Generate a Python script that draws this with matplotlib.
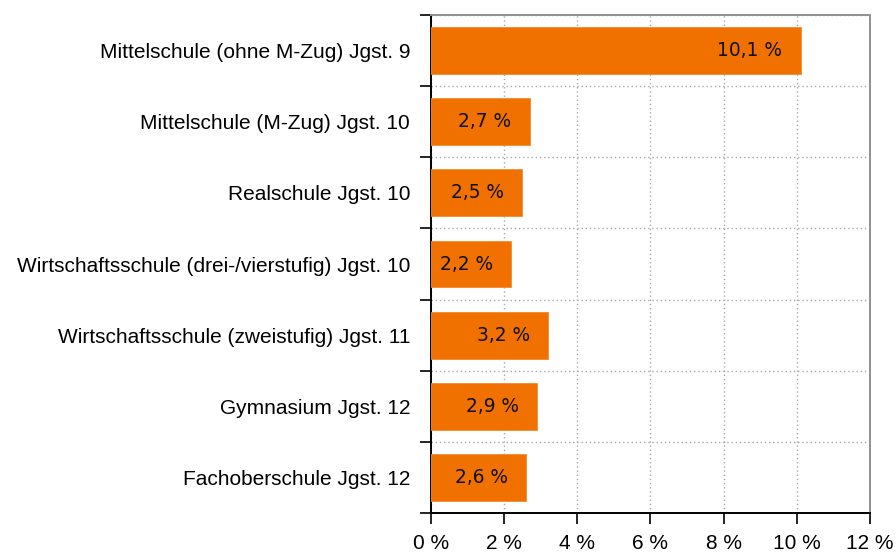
import matplotlib.pyplot as plt
from matplotlib.ticker import FixedLocator

categories = [
    'Mittelschule (ohne M-Zug) Jgst. 9',
    'Mittelschule (M-Zug) Jgst. 10',
    'Realschule Jgst. 10',
    'Wirtschaftsschule (drei-/vierstufig) Jgst. 10',
    'Wirtschaftsschule (zweistufig) Jgst. 11',
    'Gymnasium Jgst. 12',
    'Fachoberschule Jgst. 12',
]
values = [10.1, 2.7, 2.5, 2.2, 3.2, 2.9, 2.6]
xticks = [0, 2, 4, 6, 8, 10, 12]

fig = plt.figure(figsize=(8.96, 5.52), dpi=100)
ax = fig.add_axes([0.481, 0.0707, 0.49, 0.902])

n = len(categories)
ypos = list(range(n))
ax.barh(ypos, values, height=0.66, color='#f07000', edgecolor='#f48a30', linewidth=0.6, zorder=3)
ax.set_ylim(n - 0.5, -0.5)
ax.set_xlim(0, 12)

ax.set_yticks(ypos)
ax.set_yticklabels(categories, fontsize=15, family='Liberation Sans')
ax.tick_params(axis='y', which='major', length=0, pad=15)
ax.yaxis.set_minor_locator(FixedLocator([i - 0.5 for i in range(n + 1)]))
ax.tick_params(axis='y', which='minor', length=8, width=1.2, color='black')

ax.set_xticks(xticks)
ax.set_xticklabels([f'{t} %' for t in xticks], fontsize=15, family='Liberation Sans')
ax.tick_params(axis='x', length=8, width=1.2, color='black', pad=7)

grid_style = dict(linestyle=(0, (1, 2)), color='#a8a8a8', linewidth=1.0, zorder=0)
ax.grid(axis='x', which='major', **grid_style)
ax.grid(axis='y', which='minor', **grid_style)

for s in ['left', 'bottom']:
    ax.spines[s].set_color('black')
    ax.spines[s].set_linewidth(1.4)
for s in ['right', 'top']:
    ax.spines[s].set_color('#909090')
    ax.spines[s].set_linewidth(1.4)

for y, v in zip(ypos, values):
    ax.text(v - 0.5, y, f'{v:.1f} %'.replace('.', ','), ha='right', va='center',
            fontsize=13.4, family='DejaVu Sans', color='#111111', zorder=4)

fig.savefig('out.png', dpi=100)
